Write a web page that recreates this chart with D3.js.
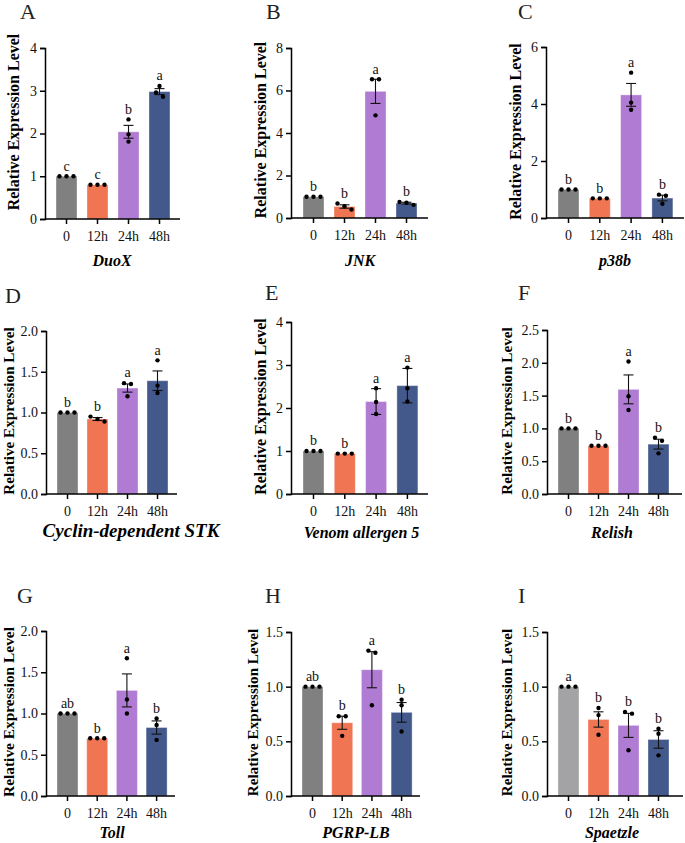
<!DOCTYPE html>
<html><head><meta charset="utf-8">
<script src="https://cdn.jsdelivr.net/npm/d3@7"></script>
<style>body{margin:0;background:#fff}svg{display:block}</style>
</head><body>
<svg id="c" width="685" height="843"></svg>
<script>
// ---- data ----
const categories = ["0", "12h", "24h", "48h"];
const panelLetters = ["A","B","C","D","E","F","G","H","I"];
const genes = ["DuoX","JNK","p38b","Cyclin-dependent STK","Venom allergen 5","Relish","Toll","PGRP-LB","Spaetzle"];
const yMax = [4, 8, 6, 2, 4, 2.5, 2, 1.5, 1.5];
const yTickStep = [1, 2, 2, 0.5, 1, 0.5, 0.5, 0.5, 0.5];
const yTickDecimals = [0, 0, 0, 1, 0, 1, 1, 1, 1];
const means = [
  [1.0, 0.80, 2.04, 2.98],
  [1.0, 0.54, 5.96, 0.70],
  [1.0, 0.69, 4.32, 0.70],
  [1.0, 0.92, 1.30, 1.39],
  [1.0, 0.94, 2.15, 2.52],
  [1.0, 0.735, 1.595, 0.76],
  [1.0, 0.70, 1.28, 0.83],
  [1.0, 0.67, 1.155, 0.765],
  [1.0, 0.70, 0.646, 0.517]
];
const errs = [
  [0, 0, 0.15, 0.07],
  [0, 0.08, 0.57, 0.04],
  [0, 0, 0.40, 0.10],
  [0, 0.018, 0.05, 0.12],
  [0, 0, 0.30, 0.40],
  [0, 0, 0.22, 0.075],
  [0, 0, 0.20, 0.08],
  [0, 0.06, 0.165, 0.09],
  [0, 0.07, 0.11, 0.08]
];
const points = [
  [[1,1,1],[0.8,0.8,0.8],[2.33,1.98,1.81],[3.11,2.96,2.86]],
  [[1,1,1],[0.68,0.55,0.40],[6.53,6.53,4.83],[0.75,0.72,0.62]],
  [[1,1,1],[0.69,0.69,0.69],[5.10,4.05,3.80],[0.82,0.78,0.50]],
  [[1,1,1],[0.95,0.92,0.89],[1.36,1.35,1.20],[1.64,1.33,1.24]],
  [[1,1,1],[0.94,0.94,0.94],[2.46,2.14,1.86],[2.94,2.46,2.15]],
  [[1,1,1],[0.735,0.735,0.735],[2.02,1.49,1.28],[0.86,0.81,0.62]],
  [[1,1,1],[0.70,0.70,0.70],[1.67,1.17,1.0],[0.94,0.86,0.68]],
  [[1,1,1],[0.73,0.73,0.55],[1.33,1.31,0.83],[0.88,0.83,0.59]],
  [[1,1,1],[0.805,0.74,0.56],[0.768,0.753,0.418],[0.616,0.57,0.372]]
];
const sigLetters = [
  ["c","c","b","a"],["b","b","a","b"],["b","b","a","b"],
  ["b","b","a","a"],["b","b","a","a"],["b","b","a","b"],
  ["ab","b","a","b"],["ab","b","a","b"],["a","b","b","b"]
];
const groupColors = ["#808080", "#f07553", "#b07bd3", "#44598b"];
const controlColors = ["#808080","#808080","#808080","#808080","#808080","#808080","#808080","#808080","#a3a3a6"];

// ---- layout (pixels) ----
const layout = [
  {ax:45,  axEnd:180, yTop:48,  yBot:219, bar0:56,  step:31,   ylx:15.5,  yly:122,   ylfs:16,   gx:112,   gy:266, gfs:16, lx:20,  ly:19},
  {ax:291, axEnd:428, yTop:48,  yBot:218, bar0:303, step:31,   ylx:262.5, yly:130,   ylfs:16,   gx:360,   gy:266, gfs:16, lx:266, ly:19},
  {ax:546, axEnd:684, yTop:47,  yBot:218, bar0:558, step:31.3, ylx:517,   yly:131.5, ylfs:16,   gx:615,   gy:266, gfs:16, lx:518, ly:19},
  {ax:46,  axEnd:177, yTop:331, yBot:494, bar0:57,  step:30,   ylx:10,    yly:411,   ylfs:15.2, gx:131,   gy:537, gfs:19, lx:5,   ly:303},
  {ax:291, axEnd:428, yTop:322, yBot:494, bar0:303, step:31.3, ylx:262,   yly:406.5, ylfs:16,   gx:361.5, gy:538, gfs:16, lx:265, ly:300},
  {ax:547, axEnd:682, yTop:330, yBot:494, bar0:558, step:30,   ylx:508.5, yly:411,   ylfs:15.2, gx:612,   gy:538, gfs:16, lx:518, ly:300},
  {ax:46,  axEnd:175, yTop:631, yBot:796, bar0:57,  step:29.7, ylx:10,    yly:712,   ylfs:15.4, gx:112,   gy:838, gfs:16, lx:17,  ly:603},
  {ax:291, axEnd:420, yTop:632, yBot:796, bar0:302, step:29.7, ylx:254,   yly:712.5, ylfs:15.2, gx:356,   gy:838, gfs:16, lx:265, ly:603},
  {ax:547, axEnd:683, yTop:632, yBot:796, bar0:558, step:30,   ylx:508.5, yly:712.5, ylfs:15.2, gx:612,   gy:838, gfs:16, lx:518, ly:603}
];

const FONT = "'Liberation Serif','Times New Roman',Times,serif";
const BW = 21, R = 2.2, CAP = 5;
const svg = d3.select("#c");

layout.forEach((L, p) => {
  const g = svg.append("g");
  const y = d3.scaleLinear().domain([0, yMax[p]]).range([L.yBot, L.yTop]);
  const x0 = L.bar0 - (L.step - BW) / 2;
  const pi = (L.step - BW) / L.step;
  const x = d3.scaleBand().domain(categories).range([x0, x0 + 4 * L.step])
    .paddingInner(pi).paddingOuter(pi / 2);
  const cx = c => x(c) + x.bandwidth() / 2;

  // bars
  g.selectAll("rect.bar").data(categories).join("rect")
    .attr("x", c => x(c)).attr("width", x.bandwidth())
    .attr("y", (c, i) => y(means[p][i]))
    .attr("height", (c, i) => y(0) - y(means[p][i]))
    .attr("fill", (c, i) => i === 0 ? controlColors[p] : groupColors[i])
    .attr("stroke", "rgba(255,255,255,0.35)").attr("stroke-width", 1);

  // axes
  const tv = d3.range(0, yMax[p] + 1e-9, yTickStep[p]);
  const yAx = g.append("g").attr("transform", `translate(${L.ax},0)`)
    .call(d3.axisLeft(y).tickValues(tv).tickFormat(d3.format(`.${yTickDecimals[p]}f`))
      .tickSizeOuter(0).tickSize(5).tickPadding(3));
  const xAx = g.append("g").attr("transform", `translate(0,${L.yBot})`)
    .call(d3.axisBottom(x).tickSize(5).tickSizeOuter(0).tickPadding(7.5));
  xAx.select(".domain").remove();
  g.append("line").attr("x1", L.ax).attr("x2", L.axEnd).attr("y1", L.yBot).attr("y2", L.yBot)
    .attr("stroke", "#000").attr("stroke-width", 1.5);
  [yAx, xAx].forEach(a => {
    a.selectAll("path,line").attr("stroke", "#000").attr("stroke-width", 1.5);
    a.selectAll("text").attr("font-family", FONT).attr("font-size", 14).attr("fill", "#111");
  });

  // error bars
  categories.forEach((c, i) => {
    const e = errs[p][i]; if (!e) return;
    const m = means[p][i], xc = cx(c);
    const eg = g.append("g").attr("stroke", "#111").attr("stroke-width", 1.1);
    eg.append("line").attr("x1", xc).attr("x2", xc).attr("y1", y(m - e)).attr("y2", y(m + e));
    [m - e, m + e].forEach(v => eg.append("line").attr("x1", xc - CAP).attr("x2", xc + CAP)
      .attr("y1", y(v)).attr("y2", y(v)));
  });

  // points (centered clustering) and significance letters
  categories.forEach((c, i) => {
    const pts = points[p][i].map(v => ({v, py: y(v)})).sort((a, b) => a.py - b.py);
    const clusters = [];
    pts.forEach(pt => {
      const last = clusters[clusters.length - 1];
      if (last && Math.abs(pt.py - last[last.length - 1].py) < 4.5) last.push(pt);
      else clusters.push([pt]);
    });
    clusters.forEach(cl => cl.forEach((pt, k) => {
      g.append("circle").attr("cx", cx(c) + (k - (cl.length - 1) / 2) * 7)
        .attr("cy", pt.py).attr("r", R).attr("fill", "#000");
    }));
    const topPt = d3.min(pts, d => d.py) - R;
    const topE = y(means[p][i] + errs[p][i]);
    g.append("text").attr("x", cx(c)).attr("y", Math.min(topPt, topE) - 3.5)
      .attr("text-anchor", "middle").attr("font-family", FONT).attr("font-size", 14)
      .attr("fill", "#111").text(sigLetters[p][i]);
  });

  // y label
  g.append("text").attr("transform", `translate(${L.ylx + 3.8},${L.yly}) rotate(-90)`)
    .attr("text-anchor", "middle").attr("font-family", FONT).attr("font-weight", "bold")
    .attr("font-size", L.ylfs).attr("fill", "#000").text("Relative Expression Level");

  // gene label
  g.append("text").attr("x", L.gx).attr("y", L.gy).attr("text-anchor", "middle")
    .attr("font-family", FONT).attr("font-weight", "bold").attr("font-style", "italic")
    .attr("font-size", L.gfs).attr("fill", "#000").text(genes[p]);

  // panel letter
  g.append("text").attr("x", L.lx).attr("y", L.ly).attr("font-family", FONT)
    .attr("font-size", 22).attr("fill", "#222").text(panelLetters[p]);
});
</script>
</body></html>
